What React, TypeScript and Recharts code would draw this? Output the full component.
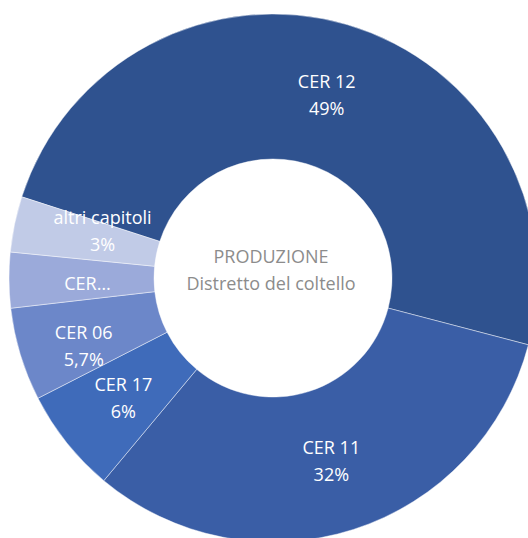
import { PieChart, Pie, Cell } from "recharts";

// slice data, clockwise from the "altri capitoli" / "CER 12" border
const categories = ["CER 12", "CER 11", "CER 17", "CER 06", "CER…", "altri capitoli"];
const values = [49.1, 32.0, 6.4, 5.7, 3.4, 3.4];
const valueLabels = ["49%", "32%", "6%", "5,7%", "", "3%"];
const colors = ["#2F528F", "#3A5EA6", "#3F6BBA", "#6C87C9", "#9BAADA", "#C1CBE7"];
const centerLines = ["PRODUZIONE", "Distretto del coltello"];

const data = categories.map((name, i) => ({ name, value: values[i], pct: valueLabels[i] }));

const FONT = "'Open Sans', sans-serif";
const RADIAN = Math.PI / 180;
const CX = 273;
const CY = 278;

// small nudges like Excel's label placement on the thin slices
const labelNudge: Record<number, [number, number]> = {
  3: [-6, 12],
  4: [6, 3],
  5: [17, -8],
};

const renderLabel = (props: any) => {
  const { cx, cy, midAngle, innerRadius, outerRadius, index } = props;
  const r = (innerRadius + outerRadius) / 2;
  const [nx, ny] = labelNudge[index] ?? [0, 0];
  const x = cx + r * Math.cos(-midAngle * RADIAN) + nx;
  const y = cy + r * Math.sin(-midAngle * RADIAN) + ny;
  const d = data[index];
  if (!d.pct) {
    return (
      <text x={x} y={y} textAnchor="middle" dominantBaseline="central" fill="#ffffff" fontSize={18} fontFamily={FONT}>
        {d.name}
      </text>
    );
  }
  return (
    <text x={x} textAnchor="middle" fill="#ffffff" fontSize={18} fontFamily={FONT}>
      <tspan x={x} y={y - 13.5} dominantBaseline="central">{d.name}</tspan>
      <tspan x={x} y={y + 13.5} dominantBaseline="central">{d.pct}</tspan>
    </text>
  );
};

export default function App() {
  return (
    <div style={{ width: 528, height: 538, overflow: "hidden", position: "relative", background: "#fff" }}>
      <style>{"body{margin:0;overflow:hidden}"}</style>
      <PieChart width={600} height={600} margin={{ top: 0, right: 0, bottom: 0, left: 0 }}>
        <Pie
          data={data}
          dataKey="value"
          nameKey="name"
          cx={CX}
          cy={CY}
          innerRadius={119}
          outerRadius={264}
          startAngle={162.1}
          endAngle={-197.9}
          stroke="#ffffff"
          strokeOpacity={0.6}
          strokeWidth={0.75}
          label={renderLabel}
          labelLine={false}
          isAnimationActive={false}
        >
          {data.map((d, i) => (
            <Cell key={d.name} fill={colors[i]} />
          ))}
        </Pie>
      </PieChart>
      <div
        style={{
          position: "absolute",
          left: CX - 120,
          top: CY - 35,
          width: 236,
          textAlign: "center",
          color: "#8C8C8C",
          fontFamily: FONT,
          fontSize: 18,
          lineHeight: "27px",
        }}
      >
        <div>{centerLines[0]}</div>
        <div>{centerLines[1]}</div>
      </div>
    </div>
  );
}
